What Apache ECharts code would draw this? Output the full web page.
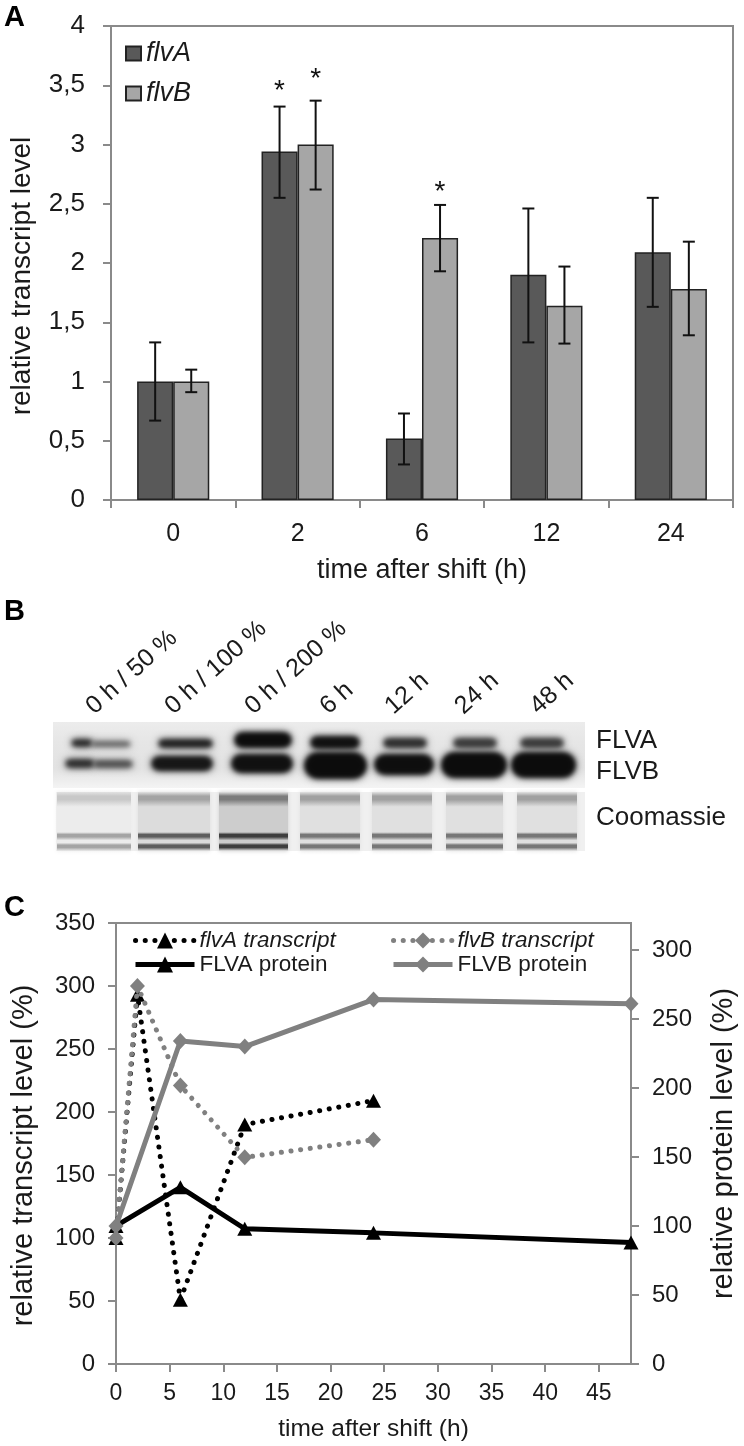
<!DOCTYPE html>
<html><head><meta charset="utf-8">
<style>html,body{margin:0;padding:0;background:#fff}#c{width:744px;height:1446px}</style>
<script src="https://cdn.jsdelivr.net/npm/echarts@6/dist/echarts.min.js"></script></head>
<body><div id="c"></div>
<script>
// Panel A
const timeCats = ['0','2','6','12','24'];
const flvA = [1.0,2.94,0.52,1.9,2.09];
const flvB = [1.0,3.0,2.21,1.64,1.78];
const flvALow = [0.67,2.55,0.30,1.33,1.63];
const flvAHigh = [1.33,3.32,0.73,2.46,2.55];
const flvBLow = [0.91,2.62,1.93,1.32,1.39];
const flvBHigh = [1.10,3.37,2.49,1.97,2.18];
const flvAStar = [null,3.49,null,null,null];
const flvBStar = [null,3.59,2.64,null,null];
// Panel B
const laneLabels = ['0 h / 50 %','0 h / 100 %','0 h / 200 %','6 h','12 h','24 h','48 h'];
const blotLabels = ['FLVA','FLVB','Coomassie'];
// Panel C
const hTranscript = [0,2,6,12,24];
const hProtein = [0,6,12,24,48];
const flvATranscript = [100,293,51,190,209];
const flvBTranscript = [100,300,221,164,178];
const flvaProtein = [100,128,98,95,88];
const flvbProtein = [100,234,230,264,261];
const xTicksC = [0,5,10,15,20,25,30,35,40,45];
const rightTicksC = [0,50,100,150,200,250,300];

const FONT = '"Liberation Sans", Arial, sans-serif';
const GREY = '#8a8a8a', TXT = '#1a1a1a', LINE_GREY = '#808080';
const pair = (a,b)=>a.map((v,i)=>[v,b[i]]);

function errSeries(low, high, star, sign){
  return {
    type:'custom', xAxisIndex:0, yAxisIndex:0, z:5, silent:true, clip:false,
    data: low.map((l,i)=>[i,l,high[i],star[i]===null?-1:star[i]]),
    encode:{x:0,y:[1,2]},
    renderItem(p,api){
      const i=api.value(0), lo=api.value(1), hi=api.value(2), st=api.value(3);
      const bw=api.size([1,0])[0]*0.29;
      const x=api.coord([i,lo])[0]+sign*bw/2;
      const y1=api.coord([i,lo])[1], y2=api.coord([i,hi])[1];
      const ls={stroke:'#111',lineWidth:2};
      const ch=[
        {type:'line',shape:{x1:x,y1:y1,x2:x,y2:y2},style:ls},
        {type:'line',shape:{x1:x-6,y1:y1,x2:x+6,y2:y1},style:ls},
        {type:'line',shape:{x1:x-6,y1:y2,x2:x+6,y2:y2},style:ls}];
      if(st>=0){
        ch.push({type:'text',style:{text:'*',x:x,y:api.coord([i,st])[1]+5,align:'center',verticalAlign:'middle',
          font:'28px '+FONT,fill:'#111'}});
      }
      return {type:'group',children:ch};
    }
  };
}

// Panel B graphics (photograph stand-in)
const g = [];
function txt(text,x,y,size){
  g.push({type:'text',x:x,y:y,style:{text:text,font:size+'px '+FONT,fill:TXT,align:'left',verticalAlign:'middle'}});
}
function bold(text,x,y){ g.push({type:'text',x:x,y:y,style:{text:text,font:'bold 29px '+FONT,fill:'#000',align:'left',verticalAlign:'middle'}}); }
bold('A',4,18); bold('B',4,612); bold('C',4,908);
const labelStarts=[90,169,249,324,389,459,534];
laneLabels.forEach((t,i)=>g.push({type:'text',x:labelStarts[i],y:710,rotation:42*Math.PI/180,
  style:{text:t,font:'25px '+FONT,fill:TXT,align:'left',verticalAlign:'middle'}}));
txt(blotLabels[0],596,741,26); txt(blotLabels[1],596,772,26); txt(blotLabels[2],596,818,26);
const vg=(stops)=>({type:'linear',x:0,y:0,x2:0,y2:1,colorStops:stops.map(s=>({offset:s[0],color:s[1]}))});
g.push({type:'rect',shape:{x:53,y:722,width:532,height:66},
  style:{fill:vg([[0,'#ececec'],[0.3,'#e6e6e6'],[0.7,'#e2e2e2'],[0.9,'#eeeeee'],[1,'#f4f4f4']])}});
// [left, top, width, height, grey]
const bands=[
 [72,740,20,6,'#222'],[92,742,38,4,'#555'],
 [66,760,28,7,'#2a2a2a'],[94,761,38,6,'#4a4a4a'],
 [159,740,53,7,'#1c1c1c'],[152,757,60,13,'#161616'],
 [235,733,56,14,'#0c0c0c'],[232,755,60,17,'#101010'],
 [311,737,48,11,'#101010'],[305,753,61,25,'#0c0c0c'],
 [384,739,42,8,'#2c2c2c'],[375,755,58,19,'#0e0e0e'],
 [454,739,42,8,'#383838'],[442,753,64,24,'#0c0c0c'],
 [521,739,42,8,'#383838'],[512,753,63,24,'#0c0c0c']
];
const OFF=900;
bands.forEach(b=>{
  const blurred=(blur)=>g.push({type:'rect',shape:{x:b[0]-OFF,y:b[1],width:b[2],height:b[3],r:Math.min(b[3],b[2])/2},
    style:{fill:b[4],shadowBlur:blur,shadowColor:b[4],shadowOffsetX:OFF}});
  blurred(9); blurred(5);
});
g.push({type:'rect',shape:{x:56,y:792,width:529,height:59},style:{fill:'#f0f0f0'}});
// [x, width, top-band grey, mid grey, low-band grey]
const lanes=[[57,74,'#c8c8c8','#ececec','#a4a4a4'],[138,72,'#a4a4a4','#dcdcdc','#5e5e5e'],[219,69,'#7c7c7c','#cdcdcd','#3e3e3e'],
 [300,60,'#a0a0a0','#e0e0e0','#777'],[372,60,'#a0a0a0','#e0e0e0','#777'],[446,57,'#a0a0a0','#e0e0e0','#777'],[517,60,'#a0a0a0','#e0e0e0','#777']];
lanes.forEach(l=>g.push({type:'rect',shape:{x:l[0],y:792,width:l[1],height:59},
  style:{fill:vg([[0,'#e2e2e2'],[0.07,l[2]],[0.13,l[2]],[0.25,l[3]],[0.5,l[3]],[0.68,l[3]],[0.72,l[4]],[0.76,l[4]],[0.82,l[3]],[0.86,l[3]],[0.9,l[4]],[0.94,l[4]],[1,'#ececec']]),
    shadowBlur:4,shadowColor:l[3]}}));

const axisLabelBase={fontFamily:FONT,color:TXT};
const legendC=(left,names)=>({left:left,top:924,orient:'vertical',itemGap:1,itemWidth:59,itemHeight:20,data:names,
  lineStyle:{width:5},
  formatter:n=>/transcript/.test(n)?'{i|'+n+'}':'{n|'+n+'}',
  textStyle:{fontFamily:FONT,fontSize:22.5,color:TXT,
    rich:{i:{fontStyle:'italic',fontSize:22.5,fontFamily:FONT},n:{fontSize:22.5,fontFamily:FONT}}}});
const option={
  animation:false,
  textStyle:{fontFamily:FONT},
  grid:[
    {left:111,top:26,width:622,height:474,show:true,borderColor:GREY,borderWidth:2,backgroundColor:'transparent',outerBoundsMode:'none'},
    {left:116,top:923,width:515,height:441,show:true,borderColor:GREY,borderWidth:2,backgroundColor:'transparent',outerBoundsMode:'none'}
  ],
  legend:[
    {left:120,top:35,orient:'vertical',itemGap:13,itemWidth:15,itemHeight:14,icon:'rect',data:['flvA','flvB'],
      textStyle:{fontFamily:FONT,fontSize:27,fontStyle:'italic',color:TXT}},
    legendC(128,['flvA transcript','FLVA protein']),
    legendC(386,['flvB transcript','FLVB protein'])
  ],
  xAxis:[
    {type:'category',gridIndex:0,data:timeCats,
      name:'time after shift (h)',nameLocation:'middle',nameGap:57,nameTextStyle:{fontSize:27,color:TXT,fontFamily:FONT},
      axisLine:{lineStyle:{color:GREY,width:2}},axisTick:{show:true,length:8,lineStyle:{color:GREY,width:2},alignWithLabel:false},
      axisLabel:Object.assign({fontSize:25,margin:22},axisLabelBase)},
    {type:'value',gridIndex:1,min:0,max:48,
      name:'time after shift (h)',nameLocation:'middle',nameGap:53,nameTextStyle:{fontSize:24.5,color:TXT,fontFamily:FONT},
      splitLine:{show:false},
      axisLine:{onZero:false,lineStyle:{color:GREY,width:2}},
      axisTick:{show:true,length:8,lineStyle:{color:GREY,width:2},customValues:xTicksC},
      axisLabel:Object.assign({fontSize:23,margin:18,customValues:xTicksC,hideOverlap:false},axisLabelBase)}
  ],
  yAxis:[
    {type:'value',gridIndex:0,min:0,max:4,interval:0.5,
      name:'relative transcript level',nameLocation:'middle',nameGap:75,nameRotate:90,
      nameTextStyle:{fontSize:28,color:TXT,fontFamily:FONT,padding:[0,26,0,0]},
      splitLine:{show:false},
      axisLine:{show:true,lineStyle:{color:GREY,width:2}},axisTick:{show:true,length:8,lineStyle:{color:GREY,width:2}},
      axisLabel:Object.assign({fontSize:26,margin:26,formatter:v=>String(v).replace('.',',')},axisLabelBase)},
    {type:'value',gridIndex:1,min:0,max:350,interval:50,
      name:'relative transcript level (%)',nameLocation:'middle',nameGap:78,nameRotate:90,
      nameTextStyle:{fontSize:29,color:TXT,fontFamily:FONT,padding:[0,24,0,0]},
      splitLine:{show:false},
      axisLine:{show:true,lineStyle:{color:GREY,width:2}},axisTick:{show:true,length:8,lineStyle:{color:GREY,width:2}},
      axisLabel:Object.assign({fontSize:24,margin:21},axisLabelBase)},
    {type:'value',gridIndex:1,position:'right',min:0,max:319.5,
      name:'relative protein level (%)',nameLocation:'middle',nameGap:78,nameRotate:90,
      nameTextStyle:{fontSize:29,color:TXT,fontFamily:FONT},
      splitLine:{show:false},
      axisLine:{show:true,lineStyle:{color:GREY,width:2}},
      axisTick:{show:true,length:8,lineStyle:{color:GREY,width:2},customValues:rightTicksC},
      axisLabel:Object.assign({fontSize:24,margin:21,customValues:rightTicksC},axisLabelBase)}
  ],
  graphic:{elements:g},
  series:[
    {name:'flvA',type:'bar',xAxisIndex:0,yAxisIndex:0,data:flvA,barGap:0,barCategoryGap:'42%',
      itemStyle:{color:'#595959',borderColor:'#222',borderWidth:1.5}},
    {name:'flvB',type:'bar',xAxisIndex:0,yAxisIndex:0,data:flvB,
      itemStyle:{color:'#a6a6a6',borderColor:'#222',borderWidth:1.5}},
    errSeries(flvALow,flvAHigh,flvAStar,-1),
    errSeries(flvBLow,flvBHigh,flvBStar,1),
    {name:'flvA transcript',type:'line',xAxisIndex:1,yAxisIndex:1,data:pair(hTranscript,flvATranscript),clip:false,z:3,
      symbol:'triangle',symbolSize:[15,14],lineStyle:{color:'#000',width:5,type:[0.1,9.6],cap:'round'},itemStyle:{color:'#000'}},
    {name:'FLVA protein',type:'line',xAxisIndex:1,yAxisIndex:2,data:pair(hProtein,flvaProtein),clip:false,z:4,
      symbol:'triangle',symbolSize:[15,14],lineStyle:{color:'#000',width:5},itemStyle:{color:'#000'}},
    {name:'flvB transcript',type:'line',xAxisIndex:1,yAxisIndex:1,data:pair(hTranscript,flvBTranscript),clip:false,z:5,
      symbol:'diamond',symbolSize:[15,16],lineStyle:{color:LINE_GREY,width:5,type:[0.1,9.6],cap:'round'},itemStyle:{color:LINE_GREY}},
    {name:'FLVB protein',type:'line',xAxisIndex:1,yAxisIndex:2,data:pair(hProtein,flvbProtein),clip:false,z:6,
      symbol:'diamond',symbolSize:[15,16],lineStyle:{color:LINE_GREY,width:5},itemStyle:{color:LINE_GREY}}
  ]
};
const chart=echarts.init(document.getElementById('c'),null,{renderer:'canvas',width:744,height:1446});
chart.setOption(option);
</script></body></html>
